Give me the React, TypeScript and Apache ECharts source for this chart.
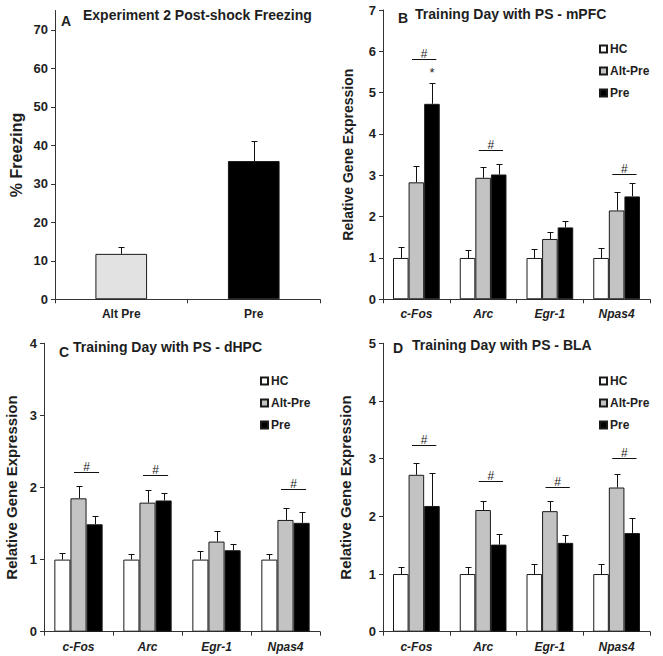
import React, { useEffect, useRef } from 'react';
import * as echarts from 'echarts';

// ---------- Data ----------
const groupsA = ['Alt Pre', 'Pre'];
const freezingMean = [11.8, 35.9];
const freezingSem = [1.9, 5.1];
const yTicksA = [0, 10, 20, 30, 40, 50, 60, 70];

const genes = ['c-Fos', 'Arc', 'Egr-1', 'Npas4'];
const groupNames = ['HC', 'Alt-Pre', 'Pre'];

// B: mPFC
const mpfcHC = [1, 1, 1, 1];
const mpfcHCSem = [0.27, 0.2, 0.21, 0.24];
const mpfcAlt = [2.83, 2.94, 1.46, 2.15];
const mpfcAltSem = [0.4, 0.26, 0.18, 0.44];
const mpfcPre = [4.73, 3.02, 1.74, 2.49];
const mpfcPreSem = [0.51, 0.26, 0.15, 0.33];
const mpfcHash = [[0, 5.81], [1, 3.61], [3, 3.04]];
const mpfcStar = [[0, 5.55]];

// C: dHPC
const dhpcHC = [1, 1, 1, 1];
const dhpcHCSem = [0.09, 0.08, 0.12, 0.08];
const dhpcAlt = [1.85, 1.79, 1.25, 1.55];
const dhpcAltSem = [0.17, 0.18, 0.15, 0.17];
const dhpcPre = [1.49, 1.82, 1.13, 1.51];
const dhpcPreSem = [0.12, 0.11, 0.09, 0.15];
const dhpcHash = [[0, 2.21], [1, 2.18], [3, 1.98]];

// D: BLA
const blaHC = [1, 1, 1, 1];
const blaHCSem = [0.13, 0.12, 0.18, 0.17];
const blaAlt = [2.72, 2.11, 2.09, 2.5];
const blaAltSem = [0.21, 0.15, 0.17, 0.24];
const blaPre = [2.18, 1.51, 1.54, 1.71];
const blaPreSem = [0.57, 0.18, 0.14, 0.26];
const blaHash = [[0, 3.24], [1, 2.62], [2, 2.51], [3, 3.02]];

// ---------- Styling ----------
const FONT = '"Liberation Sans", Arial, sans-serif';
const INK = '#1e1e1e';
const AXIS = '#333';
const fills = ['#ffffff', '#c3c3c3', '#000000'];
const GENE_GAP = 0.3;

export default function App() {
  const ref = useRef<HTMLDivElement>(null);

  useEffect(() => {
    if (!ref.current) return;
    const chart = echarts.init(ref.current, null, { renderer: 'svg' });

    const errRender = (n: number, gapFrac: number) => (params: any, api: any) => {
      const cat = api.value(0);
      const mean = api.value(1);
      const sem = api.value(2);
      const k = api.value(3);
      const band = api.size([1, 0])[0];
      const bw = (band * (1 - gapFrac)) / n;
      const off = (k - (n - 1) / 2) * bw;
      const p0 = api.coord([cat, mean]);
      const p1 = api.coord([cat, mean + sem]);
      const x = Math.round(p0[0] + off) + 0.5;
      const yt = Math.round(p1[1]) + 0.5;
      return {
        type: 'group',
        children: [
          { type: 'line', shape: { x1: x, y1: p0[1], x2: x, y2: yt }, style: { stroke: '#111', lineWidth: 1 } },
          { type: 'line', shape: { x1: x - 3, y1: yt, x2: x + 3, y2: yt }, style: { stroke: '#111', lineWidth: 1 } },
        ],
      };
    };

    const sigRender = (params: any, api: any) => {
      const cat = api.value(0);
      const y = api.value(1);
      const kind = api.value(2);
      const band = api.size([1, 0])[0];
      const bw = (band * (1 - GENE_GAP)) / 3;
      const p = api.coord([cat, y]);
      if (kind === 1) {
        return {
          type: 'text',
          x: p[0] + bw,
          y: p[1] + 3,
          style: { text: '*', align: 'center', verticalAlign: 'middle', font: `13px ${FONT}`, fill: INK },
        };
      }
      const cx = p[0] + bw / 2;
      const yy = Math.round(p[1]) + 0.5;
      return {
        type: 'group',
        children: [
          { type: 'line', shape: { x1: cx - 0.78 * bw, y1: yy, x2: cx + 0.78 * bw, y2: yy }, style: { stroke: '#111', lineWidth: 1 } },
          {
            type: 'text',
            x: cx,
            y: yy - 6,
            style: { text: '#', align: 'center', verticalAlign: 'middle', font: `12px ${FONT}`, fill: INK },
          },
        ],
      };
    };

    const grids = [
      { left: 55, top: 10.5, width: 265, height: 288.8 },
      { left: 383, top: 10, width: 267, height: 289.3 },
      { left: 44, top: 343.3, width: 276, height: 288.4 },
      { left: 383, top: 343.3, width: 267, height: 288.4 },
    ];

    const baseX = (gi: number, data: string[], italic: boolean) => ({
      type: 'category',
      gridIndex: gi,
      data,
      axisLine: { show: true, lineStyle: { color: AXIS, width: 1 } },
      axisTick: { show: true, length: 4, alignWithLabel: false, lineStyle: { color: AXIS } },
      axisLabel: {
        margin: 9,
        color: INK,
        fontFamily: FONT,
        fontWeight: 'bold',
        fontStyle: italic ? 'italic' : 'normal',
        fontSize: 12,
      },
      splitLine: { show: false },
    });

    const baseY = (gi: number, max: number, name: string, nameGap: number, nameSize: number) => ({
      type: 'value',
      gridIndex: gi,
      min: 0,
      max,
      interval: 1,
      name,
      nameLocation: 'middle',
      nameRotate: 90,
      nameGap,
      nameTextStyle: { fontFamily: FONT, fontWeight: 'bold', fontSize: nameSize, color: INK },
      axisLine: { show: true, lineStyle: { color: AXIS, width: 1 } },
      axisTick: { show: true, length: 4, lineStyle: { color: AXIS } },
      axisLabel: { margin: 7, color: INK, fontFamily: FONT, fontWeight: 'bold', fontSize: 13 },
      splitLine: { show: false },
    });

    const yA: any = baseY(0, 75, '% Freezing', 31, 16);
    yA.interval = 10;
    yA.axisTick.customValues = yTicksA;
    yA.axisLabel.customValues = yTicksA;

    const geneSets = [
      { gi: 1, means: [mpfcHC, mpfcAlt, mpfcPre], sems: [mpfcHCSem, mpfcAltSem, mpfcPreSem], hash: mpfcHash, star: mpfcStar },
      { gi: 2, means: [dhpcHC, dhpcAlt, dhpcPre], sems: [dhpcHCSem, dhpcAltSem, dhpcPreSem], hash: dhpcHash, star: [] as number[][] },
      { gi: 3, means: [blaHC, blaAlt, blaPre], sems: [blaHCSem, blaAltSem, blaPreSem], hash: blaHash, star: [] as number[][] },
    ];

    const series: any[] = [];
    // Panel A
    series.push({
      type: 'bar',
      name: 'Freezing',
      xAxisIndex: 0,
      yAxisIndex: 0,
      barCategoryGap: '61%',
      data: freezingMean.map((v, i) => ({
        value: v,
        itemStyle: { color: i === 0 ? '#e2e2e2' : '#000', borderColor: '#1a1a1a', borderWidth: 1 },
      })),
    });
    series.push({
      type: 'custom',
      name: 'errA',
      xAxisIndex: 0,
      yAxisIndex: 0,
      z: 5,
      renderItem: errRender(1, 0.61),
      encode: { x: 0, y: 1 },
      data: freezingMean.map((v, i) => [i, v, freezingSem[i], 0]),
    });

    geneSets.forEach((s) => {
      groupNames.forEach((nm, k) => {
        series.push({
          type: 'bar',
          name: nm,
          xAxisIndex: s.gi,
          yAxisIndex: s.gi,
          barGap: '0%',
          barCategoryGap: `${GENE_GAP * 100}%`,
          itemStyle: { color: fills[k], borderColor: '#1a1a1a', borderWidth: 1 },
          data: s.means[k],
        });
      });
      const errData: number[][] = [];
      groupNames.forEach((_, k) => {
        s.means[k].forEach((v, i) => errData.push([i, v, s.sems[k][i], k]));
      });
      series.push({
        type: 'custom',
        name: 'err' + s.gi,
        xAxisIndex: s.gi,
        yAxisIndex: s.gi,
        z: 5,
        renderItem: errRender(3, GENE_GAP),
        encode: { x: 0, y: 1 },
        data: errData,
      });
      series.push({
        type: 'custom',
        name: 'sig' + s.gi,
        xAxisIndex: s.gi,
        yAxisIndex: s.gi,
        z: 5,
        renderItem: sigRender,
        encode: { x: 0, y: 1 },
        data: [...s.hash.map((h) => [h[0], h[1], 0]), ...s.star.map((h) => [h[0], h[1], 1])],
      });
    });

    const legendBase = (left: number, top: number) => ({
      left,
      top,
      orient: 'vertical',
      itemWidth: 7,
      itemHeight: 7,
      itemGap: 10,
      padding: 0,
      icon: 'rect',
      selectedMode: false,
      data: groupNames,
      textStyle: { fontFamily: FONT, fontWeight: 'bold', fontSize: 12, color: INK, padding: [0, 0, 0, -2] },
    });

    const txt = (text: string, x: number, y: number) => ({
      type: 'text',
      x,
      y,
      style: { text, font: `bold 14px ${FONT}`, fill: INK, align: 'left', verticalAlign: 'middle' },
    });

    chart.setOption({
      animation: false,
      backgroundColor: '#fff',
      grid: grids.map((g) => ({ ...g, containLabel: false })),
      xAxis: [baseX(0, groupsA, false), baseX(1, genes, true), baseX(2, genes, true), baseX(3, genes, true)],
      yAxis: [
        yA,
        baseY(1, 7, 'Relative Gene Expression', 28, 14),
        baseY(2, 4, 'Relative Gene Expression', 25, 15),
        baseY(3, 5, 'Relative Gene Expression', 30, 15),
      ],
      legend: [legendBase(599, 43), legendBase(260, 375), legendBase(599, 375)],
      series,
      graphic: [
        txt('A', 61, 21),
        txt('Experiment 2 Post-shock Freezing', 83, 15),
        txt('B', 398, 18),
        txt('Training Day with PS - mPFC', 415, 14),
        txt('C', 59, 352),
        txt('Training Day with PS - dHPC', 73, 347),
        txt('D', 393, 348),
        txt('Training Day with PS - BLA', 412, 345),
      ],
    });

    return () => chart.dispose();
  }, []);

  return <div ref={ref} style={{ position: 'fixed', left: 0, top: 0, width: 663, height: 656 }} />;
}
